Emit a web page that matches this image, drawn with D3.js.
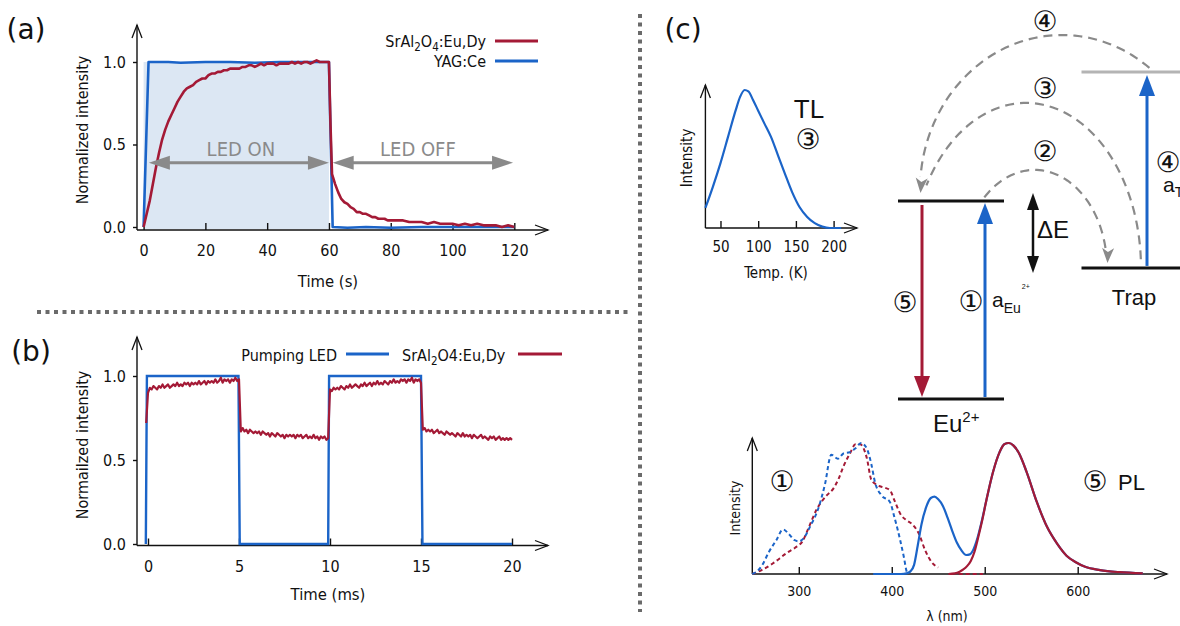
<!DOCTYPE html>
<html><head><meta charset="utf-8">
<script src="https://cdn.jsdelivr.net/npm/d3@7"></script>
<style>
body{margin:0;background:#fff}
svg{display:block}
</style></head><body>
<svg id="c" width="1180" height="626"></svg>
<script>
// ---------------- DATA ----------------
// Panel (a): persistent luminescence vs YAG:Ce, time in s
const aTicksX = [0,20,40,60,80,100,120];
const aTicksY = [0,0.5,1];
const aSrAl = [[0,0.00],[1,0.08],[2,0.16],[3,0.26],[4,0.36],[5,0.45],[6,0.53],[7,0.59],[8,0.64],[9,0.68],[10,0.72],[11,0.76],[12,0.79],[13,0.82],[14,0.84],[15,0.85],[16,0.86],[17,0.88],[18,0.89],[19,0.90],[20,0.90],[21,0.92],[22,0.93],[23,0.93],[24,0.94],[25,0.94],[26,0.95],[27,0.95],[28,0.96],[29,0.96],[30,0.96],[31,0.96],[32,0.97],[33,0.97],[34,0.98],[35,0.98],[36,0.97],[37,0.98],[38,0.99],[39,0.98],[40,0.99],[41,0.99],[42,0.99],[43,0.98],[44,0.99],[45,0.99],[46,0.99],[47,0.99],[48,1.00],[49,0.99],[50,1.00],[51,0.99],[52,1.00],[53,1.00],[54,0.99],[55,1.00],[56,1.01],[57,1.00],[58,1.00],[59,1.00],[60,1.00],
 [60.5,0.62],[61,0.32],[62,0.26],[63,0.21],[64,0.17],[65,0.15],[66,0.14],[67,0.12],[68,0.11],[69,0.09],[70,0.09],[71,0.08],[72,0.08],[73,0.07],[74,0.06],[75,0.06],[76,0.05],[77,0.05],[78,0.05],[79,0.04],[80,0.04],[82,0.04],[84,0.04],[86,0.03],[88,0.03],[90,0.03],[92,0.02],[94,0.03],[96,0.02],[98,0.02],[100,0.02],[102,0.01],[104,0.02],[106,0.01],[108,0.02],[110,0.01],[112,0.01],[114,0.01],[116,0.00],[118,0.01],[120,0.00]];
const aYag = [[0,0.00],[1.6,1.00],[8,1.00],[12,0.995],[20,1.00],[28,1.00],[36,0.995],[44,1.00],[52,1.00],[60,1.00],[61.2,0.00],[66,-0.005],[72,0.00],[80,-0.005],[90,0.00],[100,0.00],[110,0.00],[120,0.00]];
const aLedLabels = ["LED ON","LED OFF"];
const aLedLabelT = [31.5, 88.8];
const aLedSpans = [[1.7,60],[61.2,119.6]];
const aLedLevel = 0.39;

// Panel (b): pulsed pumping, time in ms
const bTicksX = [0,5,10,15,20];
const bTicksY = [0,0.5,1];
const bLED = [[-0.12,0],[-0.06,1.0],[4.97,1.0],[5.04,0],[9.9,0],[9.95,1.0],[15.0,1.0],[15.08,0],[20,0]];
const bSrStart = -0.1, bSrStep = 0.1;
const bSrVal = [0.72,0.90,
 0.93,0.92,0.94,0.93,0.92,0.94,0.93,0.95,0.93,0.94,
 0.95,0.93,0.94,0.95,0.94,0.96,0.94,0.95,0.94,0.96,
 0.95,0.96,0.94,0.96,0.95,0.96,0.95,0.97,0.95,0.96,
 0.97,0.95,0.97,0.96,0.97,0.96,0.98,0.96,0.97,0.99,
 0.96,0.98,0.97,0.98,0.96,0.98,0.97,0.99,0.97,0.98,
 0.67,0.69,0.67,0.68,0.66,0.68,0.67,0.66,0.67,0.66,
 0.67,0.65,0.67,0.66,0.65,0.66,0.64,0.66,0.65,0.64,
 0.66,0.65,0.64,0.65,0.63,0.65,0.64,0.65,0.64,0.65,
 0.63,0.65,0.64,0.65,0.63,0.64,0.65,0.63,0.64,0.63,
 0.65,0.63,0.64,0.62,0.64,0.63,0.64,0.62,0.63,
 0.92,
 0.91,0.93,0.92,0.93,0.92,0.94,0.93,0.92,0.94,0.93,
 0.95,0.93,0.94,0.95,0.94,0.93,0.95,0.94,0.96,0.94,
 0.95,0.96,0.94,0.96,0.95,0.97,0.95,0.96,0.95,0.97,
 0.96,0.95,0.97,0.96,0.98,0.96,0.97,0.96,0.98,0.97,
 0.98,0.96,0.98,0.97,0.99,0.96,0.98,0.97,0.98,
 0.96,
 0.68,0.69,0.67,0.68,0.67,0.68,0.66,0.67,0.68,0.66,
 0.67,0.66,0.65,0.67,0.66,0.65,0.66,0.65,0.64,0.66,
 0.65,0.64,0.66,0.64,0.65,0.64,0.65,0.63,0.65,0.64,
 0.63,0.64,0.65,0.63,0.64,0.63,0.62,0.64,0.63,0.64,
 0.62,0.63,0.64,0.62,0.63,0.62,0.63,0.62,0.63,0.62];

// Panel (c) TL inset: temperature (K) vs normalized intensity
const tlTicks = [50,100,150,200];
const tlCurve = [[30,0.145],[40,0.30],[50,0.47],[60,0.66],[70,0.85],[76,0.95],[82,1.0],[87,0.99],[93,0.93],[100,0.85],[108,0.76],[117,0.66],[126,0.53],[135,0.40],[145,0.26],[155,0.15],[165,0.08],[175,0.035],[185,0.01],[195,0.0],[210,0.0]];

// Panel (c) PL inset: wavelength (nm)
const plTicks = [300,400,500,600];
const plExcBlue = [[250,0],[255,0.02],[260,0.06],[268,0.17],[276,0.26],[283,0.34],[290,0.30],[295,0.26],[300,0.25],[305,0.27],[312,0.36],[321,0.50],[328,0.68],[335,0.91],[342,0.88],[348,0.92],[355,0.93],[361,0.96],[367,1.0],[373,0.96],[378,0.84],[382,0.70],[389,0.60],[398,0.55],[403,0.43],[409,0.26],[413,0.13],[416,0.02],[418,0.0]];
const plExcRed = [[250,0],[260,0.03],[272,0.08],[287,0.16],[296,0.20],[304,0.25],[311,0.36],[319,0.49],[330,0.60],[337,0.65],[343,0.73],[348,0.82],[355,0.92],[361,0.99],[366,0.99],[373,0.89],[378,0.72],[384,0.68],[392,0.66],[398,0.64],[403,0.56],[410,0.45],[416,0.41],[422,0.38],[429,0.31],[436,0.18],[443,0.09],[450,0.05]];
const plExcRedTail = [[472,0.0],[498,0.0]];
const plEmBlue = [[380,0],[410,0],[416,0.005],[420,0.02],[424,0.07],[428,0.22],[432,0.38],[437,0.51],[442,0.58],[446,0.59],[450,0.57],[455,0.52],[460,0.43],[465,0.33],[470,0.24],[475,0.18],[480,0.145],[484,0.15],[488,0.19],[492,0.27],[496,0.38],[502,0.57],[509,0.78],[516,0.93],[521,0.99],[526,1.0],[531,0.98],[537,0.92],[545,0.78],[556,0.55],[567,0.36],[578,0.23],[588,0.14],[598,0.09],[608,0.055],[624,0.03],[645,0.014],[670,0.005]];
const plEmRed = [[461,0],[468,0.005],[473,0.018],[477,0.035],[481,0.06],[485,0.10],[489,0.17],[493,0.28],[497,0.40],[502,0.57],[509,0.78],[516,0.93],[521,0.99],[526,1.0],[531,0.98],[537,0.92],[545,0.78],[556,0.55],[567,0.36],[578,0.23],[588,0.14],[598,0.09],[608,0.055],[624,0.03],[645,0.014],[670,0.005]];

// Energy levels (schematic energies, Eu2+ ground = 0, excited = 1)
const levelNames = ["Eu ground","Eu excited","Trap","Trap excited"];
const levelEnergy = [0, 1, 0.662, 1.652];

// ---------------- STYLE ----------------
const BLUE = "#1b64c8", RED = "#a41a36", GRAY = "#8a8a8a";
const FONT = '"DejaVu Sans Condensed","DejaVu Sans",sans-serif';
const DJ = '"DejaVu Sans",sans-serif';
const ARIAL = '"Liberation Sans",Arial,sans-serif';
const CIRC = '"DejaVu Sans","Noto Sans CJK SC",sans-serif';
const CS = 28; // circled digit size

const svg = d3.select("#c");
svg.append("rect").attr("width",1180).attr("height",626).attr("fill","#fff");

function openHead(g, x, y, dir, len, half){
  const p = dir === "up" ? [[x-half,y+len],[x,y],[x+half,y+len]] : [[x-len,y-half],[x,y],[x-len,y+half]];
  g.append("path").attr("d", d3.line()(p)).attr("fill","none").attr("stroke","#111").attr("stroke-width",1.3);
}
function solidHead(g, tip, ang, len, half, color, notch){
  const c = Math.cos(ang), s = Math.sin(ang);
  const bx = tip[0]-len*c, by = tip[1]-len*s;
  const nx = -s, ny = c;
  const n = notch || 0;
  const pts = [tip,[bx+nx*half,by+ny*half],[bx+n*c,by+n*s],[bx-nx*half,by-ny*half]];
  g.append("path").attr("d", d3.line()(pts)+"Z").attr("fill",color);
}
function arrow(g, p1, p2, color, w, len, half, both){
  const ang = Math.atan2(p2[1]-p1[1], p2[0]-p1[0]);
  const c = Math.cos(ang), s = Math.sin(ang);
  const a = both ? [p1[0]+len*0.7*c, p1[1]+len*0.7*s] : p1;
  const b = [p2[0]-len*0.7*c, p2[1]-len*0.7*s];
  g.append("line").attr("x1",a[0]).attr("y1",a[1]).attr("x2",b[0]).attr("y2",b[1])
    .attr("stroke",color).attr("stroke-width",w);
  solidHead(g,p2,ang,len,half,color);
  if (both) solidHead(g,p1,ang+Math.PI,len,half,color);
}
function styleAxis(sel, size){
  sel.select(".domain").remove();
  sel.selectAll(".tick line").attr("stroke","#111").attr("stroke-width",1.4);
  sel.selectAll(".tick text").attr("font-family",FONT).attr("font-size",size).attr("fill","#111");
}
function frame(g, x, y, o){
  const gx = g.append("g").attr("transform",`translate(0,${o.xAxisY})`)
    .call(d3.axisBottom(x).tickValues(o.xTicks).tickSizeInner(-7).tickSizeOuter(0).tickPadding(o.xPad||15).tickFormat(d3.format("d")));
  styleAxis(gx, o.fs||16);
  if (o.yTicks){
    const gy = g.append("g").attr("transform",`translate(${o.yAxisX},0)`)
      .call(d3.axisLeft(y).tickValues(o.yTicks).tickSize(4).tickSizeOuter(0).tickPadding(7).tickFormat(d3.format(".1f")));
    styleAxis(gy, o.fs||16);
  }
  g.append("line").attr("x1",o.yAxisX).attr("x2",o.xEnd).attr("y1",o.xAxisY).attr("y2",o.xAxisY).attr("stroke","#111").attr("stroke-width",1.4);
  g.append("line").attr("x1",o.yAxisX).attr("x2",o.yAxisX).attr("y1",o.xAxisY).attr("y2",o.yTop).attr("stroke","#111").attr("stroke-width",1.4);
  openHead(g, o.xEnd, o.xAxisY, "right", 13, 5);
  openHead(g, o.yAxisX, o.yTop, "up", 13, 5);
}
function label(g, txt, x, y, size, fam, anchor, rot, fill){
  const t = g.append("text").attr("font-family",fam||FONT).attr("font-size",size).attr("fill",fill||"#111")
    .attr("text-anchor",anchor||"middle");
  if (rot) t.attr("transform",`translate(${x},${y}) rotate(${rot})`);
  else t.attr("x",x).attr("y",y);
  t.text(txt);
  return t;
}
function circ(g, txt, cx, cy){ return label(g, txt, cx, cy + CS*0.33, CS, CIRC); }
function chem(t, parts){
  let sub = false;
  parts.forEach(([s,isSub]) => {
    const sp = t.append("tspan").text(s);
    if (isSub && !sub){ sp.attr("dy",4).attr("font-size","0.72em"); sub = true; }
    else if (isSub && sub){ sp.attr("font-size","0.72em"); }
    else if (!isSub && sub){ sp.attr("dy",-4); sub = false; }
  });
}

// ---------------- PANEL (a) ----------------
const gA = svg.append("g");
const xA = d3.scaleLinear([0,120],[143.6,514.3]);
const yA = d3.scaleLinear([0,1],[227,62]);
gA.append("rect").attr("x",xA(0)).attr("y",yA(1)).attr("width",xA(60)-xA(0)).attr("height",yA(-0.012)-yA(1)).attr("fill","#dce7f3");
frame(gA, xA, yA, {yAxisX:137, xAxisY:230, xEnd:548, yTop:25, xTicks:aTicksX, yTicks:aTicksY});
const lineA = d3.line().x(d=>xA(d[0])).y(d=>yA(d[1]));
gA.append("path").attr("d",lineA(aYag)).attr("fill","none").attr("stroke",BLUE).attr("stroke-width",2.6).attr("stroke-linejoin","round");
gA.append("path").attr("d",lineA(aSrAl)).attr("fill","none").attr("stroke",RED).attr("stroke-width",2.6).attr("stroke-linejoin","round");
aLedSpans.forEach((sp,i)=>{
  arrow(gA,[xA(sp[0]),yA(aLedLevel)],[xA(sp[1]),yA(aLedLevel)],GRAY,3,21,7,true);
  label(gA, aLedLabels[i], xA(aLedLabelT[i]), 156, 20, FONT, "middle", 0, GRAY);
});
label(gA,"Time (s)",328,287,16.5);
label(gA,"Normalized intensity",88,130,16,FONT,"middle",-90);
label(gA,"(a)",26,39,28,DJ);
chem(label(gA,"",486,47,16,FONT,"end"), [["SrAl",0],["2",1],["O",0],["4",1],[":Eu,Dy",0]]);
label(gA,"YAG:Ce",486,67,16,FONT,"end");
gA.append("line").attr("x1",495).attr("x2",538).attr("y1",41).attr("y2",41).attr("stroke",RED).attr("stroke-width",3);
gA.append("line").attr("x1",495).attr("x2",538).attr("y1",61).attr("y2",61).attr("stroke",BLUE).attr("stroke-width",3);

// ---------------- PANEL (b) ----------------
const gB = svg.append("g");
const xB = d3.scaleLinear([0,20],[148,512]);
const yB = d3.scaleLinear([0,1],[544,376]);
frame(gB, xB, yB, {yAxisX:137, xAxisY:545.5, xEnd:548, yTop:337, xTicks:bTicksX, yTicks:bTicksY});
const lineB = d3.line().x(d=>xB(d[0])).y(d=>yB(d[1]));
const bSr = bSrVal.map((v,i)=>[bSrStart + i*bSrStep, v]);
gB.append("path").attr("d",lineB(bLED)).attr("fill","none").attr("stroke",BLUE).attr("stroke-width",2.4);
gB.append("path").attr("d",lineB(bSr)).attr("fill","none").attr("stroke",RED).attr("stroke-width",2.2).attr("stroke-linejoin","round");
label(gB,"Time (ms)",328,600,16.5);
label(gB,"Normailzed intensity",88,445,16,FONT,"middle",-90);
label(gB,"(b)",31,361,28,DJ);
label(gB,"Pumping LED",337,361,16,FONT,"end");
gB.append("line").attr("x1",346).attr("x2",389).attr("y1",354).attr("y2",354).attr("stroke",BLUE).attr("stroke-width",3);
chem(label(gB,"",402,361,16,FONT,"start"), [["SrAl",0],["2",1],["O4:Eu,Dy",0]]);
gB.append("line").attr("x1",518).attr("x2",562).attr("y1",354).attr("y2",354).attr("stroke",RED).attr("stroke-width",3);

// ---------------- DIVIDERS ----------------
svg.append("line").attr("x1",37).attr("x2",630).attr("y1",312).attr("y2",312).attr("stroke","#6a6a6a").attr("stroke-width",4).attr("stroke-dasharray","4 4.5");
svg.append("line").attr("x1",640).attr("x2",640).attr("y1",14).attr("y2",612).attr("stroke","#6a6a6a").attr("stroke-width",4).attr("stroke-dasharray","4 4.5");

// ---------------- PANEL (c) ----------------
const gC = svg.append("g");
label(gC,"(c)",683,39,28,DJ);

// TL inset
const xT = d3.scaleLinear([30,200],[705.4,833.6]);
const yT = d3.scaleLinear([0,1],[228,90]);
frame(gC, xT, yT, {yAxisX:705.4, xAxisY:228, xEnd:857, yTop:85, xTicks:tlTicks, fs:15, xPad:13});
gC.append("path").attr("d", d3.line().curve(d3.curveMonotoneX).x(d=>xT(d[0])).y(d=>yT(d[1]))(tlCurve))
  .attr("fill","none").attr("stroke",BLUE).attr("stroke-width",2.2);
label(gC,"Temp. (K)",776,278,15);
label(gC,"Intensity",692,158,15,FONT,"middle",-90);
label(gC,"TL",809,118,26,ARIAL);
circ(gC,"③",808,140);

// Energy diagram
const yE = d3.scaleLinear([0,1],[399,201]);
const euX = [898,1004], trapX = [1081.5,1185];
const lv = levelEnergy.map(e=>yE(e));
gC.append("line").attr("x1",euX[0]).attr("x2",euX[1]).attr("y1",lv[0]).attr("y2",lv[0]).attr("stroke","#111").attr("stroke-width",3);
gC.append("line").attr("x1",euX[0]).attr("x2",euX[1]).attr("y1",lv[1]).attr("y2",lv[1]).attr("stroke","#111").attr("stroke-width",3);
gC.append("line").attr("x1",trapX[0]).attr("x2",trapX[1]).attr("y1",lv[2]).attr("y2",lv[2]).attr("stroke","#111").attr("stroke-width",3);
gC.append("line").attr("x1",trapX[0]).attr("x2",trapX[1]).attr("y1",lv[3]).attr("y2",lv[3]).attr("stroke","#b4b4b4").attr("stroke-width",3);

arrow(gC,[922,lv[1]+4],[922,lv[0]-2],RED,3,21,8);
arrow(gC,[985,lv[0]-2],[985,lv[1]+2],BLUE,3,21,8);
arrow(gC,[1147,lv[2]-2],[1147,lv[3]+3],BLUE,3,21,8);
arrow(gC,[1033,lv[1]-8],[1033,lv[2]+5],"#111",2.5,17,6,true);

function ellArc(cx,cy,rx,ry,a0,a1){
  const n = 60, pts = [];
  for (let i=0;i<=n;i++){ const a=(a0+(a1-a0)*i/n)*Math.PI/180; pts.push([cx+rx*Math.cos(a), cy-ry*Math.sin(a)]); }
  return pts;
}
const dash = p => gC.append("path").attr("d",d3.line()(p)).attr("fill","none").attr("stroke",GRAY).attr("stroke-width",2.2).attr("stroke-dasharray","9 6");
dash(ellArc(1034.6,lv[2],72.4,98,134,9));
solidHead(gC,[1107.5,lv[2]-5],Math.PI/2+0.04,15,6,GRAY,4);
dash(ellArc(1026,lv[2],115,165,3,150));
dash(ellArc(1062,190,142,155,52,175));
solidHead(gC,[920.5,lv[1]-8],Math.PI/2+0.08,15,6,GRAY,4);

circ(gC,"④",1045,22);
circ(gC,"③",1045,89);
circ(gC,"②",1045,152);
circ(gC,"⑤",905,303);
circ(gC,"①",971,302);
circ(gC,"④",1168,163);
label(gC,"ΔE",1037,238,24,ARIAL,"start");
label(gC,"Trap",1134,305,22,ARIAL);
{
  const t = label(gC,"",933,432,24,ARIAL,"start");
  t.append("tspan").text("Eu");
  t.append("tspan").attr("dy",-10).attr("font-size",15).text("2+");
}
{
  const t = label(gC,"",992,307,21,ARIAL,"start");
  t.append("tspan").text("a");
  t.append("tspan").attr("dy",6).attr("font-size",14).text("Eu");
  t.append("tspan").attr("dy",-24).attr("dx",1).attr("font-size",7).text("2+");
}
{
  const t = label(gC,"",1163,192,21,ARIAL,"start");
  t.append("tspan").text("a");
  t.append("tspan").attr("dy",5).attr("font-size",14).text("Trap");
}

// PL inset
const xP = d3.scaleLinear([250,600],[752.3,1077.7]);
const yP = d3.scaleLinear([0,1],[574,443]);
frame(gC, xP, yP, {yAxisX:752.3, xAxisY:574, xEnd:1167, yTop:438, xTicks:plTicks, fs:14, xPad:12});
const lineP = d3.line().curve(d3.curveMonotoneX).x(d=>xP(d[0])).y(d=>yP(d[1]));
gC.append("path").attr("d",lineP(plExcRed)).attr("fill","none").attr("stroke",RED).attr("stroke-width",2).attr("stroke-dasharray","4 3");
gC.append("path").attr("d",lineP(plExcRedTail)).attr("fill","none").attr("stroke",RED).attr("stroke-width",2).attr("stroke-dasharray","4 3");
gC.append("path").attr("d",lineP(plExcBlue)).attr("fill","none").attr("stroke",BLUE).attr("stroke-width",2).attr("stroke-dasharray","4 3");
gC.append("path").attr("d",lineP(plEmBlue)).attr("fill","none").attr("stroke",BLUE).attr("stroke-width",2.2);
gC.append("path").attr("d",lineP(plEmRed)).attr("fill","none").attr("stroke",RED).attr("stroke-width",2.2);
label(gC,"λ (nm)",947,621,14);
label(gC,"Intensity",740,508,14,FONT,"middle",-90);
circ(gC,"①",782,482);
circ(gC,"⑤",1095,482);
label(gC,"PL",1118,490,22,ARIAL,"start");
</script>
</body></html>
